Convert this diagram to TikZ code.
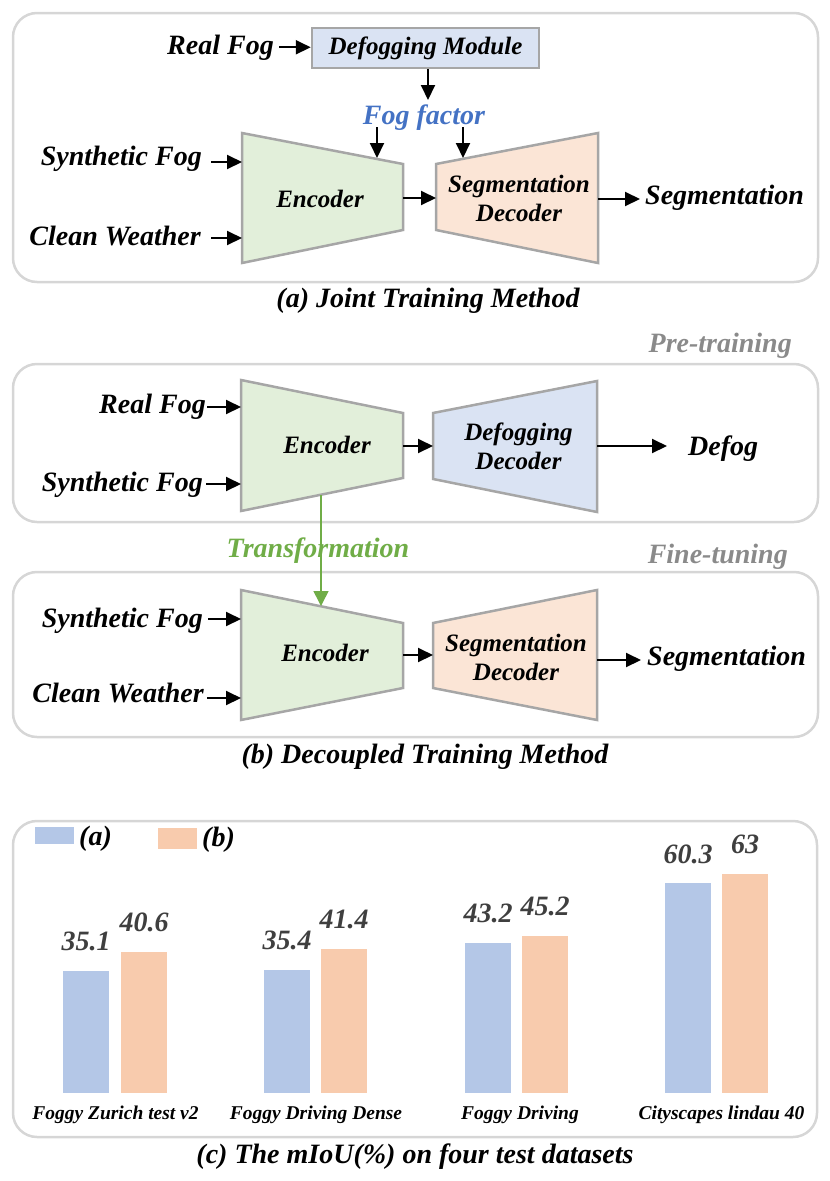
\documentclass[tikz,border=0pt]{standalone}
\usepackage{fontspec}
\setmainfont{Liberation Serif}
\usetikzlibrary{arrows.meta}
\definecolor{encc}{HTML}{E2EFDA}
\definecolor{segc}{HTML}{FBE5D6}
\definecolor{defc}{HTML}{DAE3F3}
\definecolor{edgec}{HTML}{A6A6A6}
\definecolor{panelc}{HTML}{D6D6D6}
\definecolor{fogblue}{HTML}{4472C4}
\definecolor{trgreen}{HTML}{70AD47}
\definecolor{barblue}{HTML}{B4C7E7}
\definecolor{barorange}{HTML}{F8CBAD}
\definecolor{valgray}{HTML}{3F3F3F}
\definecolor{stagegray}{HTML}{8A8A8A}
\begin{document}
\begin{tikzpicture}[x=1pt,y=-1pt,
  lbl/.style={font=\fontsize{28}{30}\selectfont\bfseries\itshape, inner sep=0pt},
  inl/.style={font=\fontsize{25}{29}\selectfont\bfseries\itshape, inner sep=0pt, align=center},
  cat/.style={font=\fontsize{19.5}{21}\selectfont\bfseries\itshape, inner sep=0pt},
  val/.style={lbl, text=valgray},
  arr/.style={line width=2pt, -{Triangle[length=15pt,width=14pt]}},
  garr/.style={draw=trgreen, line width=1.6pt, -{Triangle[length=15pt,width=15pt]}},
  panel/.style={draw=panelc, line width=2.5pt, rounded corners=24pt},
  trap/.style={draw=edgec, line width=2.5pt, line join=miter},
  mod/.style={draw=edgec, line width=2.5pt, fill=defc, minimum width=227pt, minimum height=40pt, inner sep=0pt, font=\fontsize{25}{27}\selectfont\bfseries\itshape}]
\useasboundingbox (0,0) rectangle (830,1181);

% ---------- panels ----------
\draw[panel] (13,13) rectangle (818,282);
\draw[panel] (13,364) rectangle (818,522);
\draw[panel] (13,572) rectangle (818,737);
\draw[panel] (13,821) rectangle (817,1137);

% ---------- (a) Joint training ----------
\draw[trap, fill=encc] (242,133) -- (403,164) -- (403,230) -- (242,263) -- cycle;
\draw[trap, fill=segc] (436,164) -- (598,133) -- (598,263) -- (436,230) -- cycle;
\coordinate (EAr) at (403,198);
\coordinate (DAl) at (436,198);
\coordinate (DAr) at (598,199);
\coordinate (EAin1) at (242,162);
\coordinate (EAin2) at (242,238);
\coordinate (EAtop) at (377,158);
\coordinate (DAtop) at (463,158);
\coordinate (FFtip) at (428,100);

\node[mod] (dm) at (425.5,48) {Defogging Module};
\node[lbl, anchor=base east] (rfa) at (274,54) {Real Fog};
\node[lbl, anchor=base, text=fogblue] (ff) at (424,124) {Fog factor};
\node[lbl, anchor=base east] (sfa) at (202,165) {Synthetic Fog};
\node[lbl, anchor=base east] (cwa) at (201,245) {Clean Weather};
\node[inl, anchor=base] (enca) at (320,207) {Encoder};
\node[inl] (seda) at (519,198) {Segmentation\\Decoder};
\node[lbl, anchor=base west] (outa) at (645,204) {Segmentation};
\node[lbl, anchor=base] (capa) at (428,307) {(a) Joint Training Method};

\draw[arr, shorten <=5pt] (rfa.east) -- (rfa.east -| dm.west);
\draw[arr] (dm.south -| FFtip) -- (FFtip);
\draw[arr, shorten <=-3pt] (ff.south -| EAtop) -- (EAtop);
\draw[arr, shorten <=-3pt] (ff.south -| DAtop) -- (DAtop);
\draw[arr, shorten <=9pt] (sfa.east |- EAin1) -- (EAin1);
\draw[arr, shorten <=10pt] (cwa.east |- EAin2) -- (EAin2);
\draw[arr] (EAr) -- (DAl);
\draw[arr, shorten >=5pt] (DAr) -- (outa.west |- DAr);

% ---------- (b) Pre-training ----------
\draw[trap, fill=encc] (241,380) -- (403,413) -- (403,478) -- (241,511) -- cycle;
\draw[trap, fill=defc] (433,413) -- (597,381) -- (597,512) -- (433,479) -- cycle;
\coordinate (EBr) at (403,446);
\coordinate (DBl) at (433,446);
\coordinate (DBr) at (597,446);
\coordinate (EBin1) at (241,407);
\coordinate (EBin2) at (241,484);
\coordinate (EBbot) at (321,495);

\node[lbl, anchor=base east, text=stagegray] (pre) at (792,352) {Pre-training};
\node[lbl, anchor=base east] (rfb) at (206,413) {Real Fog};
\node[lbl, anchor=base east] (sfb) at (203,491) {Synthetic Fog};
\node[inl, anchor=base] (encb) at (327,453) {Encoder};
\node[inl] (defb) at (518.5,446) {Defogging\\Decoder};
\node[lbl, anchor=base west] (outb) at (688,455) {Defog};

\draw[arr, shorten <=1pt] (rfb.east |- EBin1) -- (EBin1);
\draw[arr, shorten <=3pt] (sfb.east |- EBin2) -- (EBin2);
\draw[arr] (EBr) -- (DBl);
\draw[arr, shorten >=21pt] (DBr) -- (outb.west |- DBr);

% ---------- (b) Fine-tuning ----------
\draw[trap, fill=encc] (241,590) -- (403,623) -- (403,688) -- (241,720) -- cycle;
\draw[trap, fill=segc] (433,623) -- (597,590) -- (597,720) -- (433,688) -- cycle;
\coordinate (ECr) at (403,655);
\coordinate (DCl) at (433,655);
\coordinate (DCr) at (597,660);
\coordinate (ECin1) at (241,619);
\coordinate (ECin2) at (241,698);
\coordinate (ECtop) at (321,606);

\node[lbl, anchor=base east, text=stagegray] (fine) at (788,563) {Fine-tuning};
\node[lbl, anchor=base east] (sfc) at (203,627) {Synthetic Fog};
\node[lbl, anchor=base east] (cwc) at (204,702) {Clean Weather};
\node[inl, anchor=base] (encc) at (325,661) {Encoder};
\node[inl] (sedc) at (516,657) {Segmentation\\Decoder};
\node[lbl, anchor=base west] (outc) at (647,665) {Segmentation};
\node[lbl, anchor=base] (capb) at (425,763) {(b) Decoupled Training Method};

\draw[arr, shorten <=5pt] (sfc.east |- ECin1) -- (ECin1);
\draw[arr, shorten <=3pt] (cwc.east |- ECin2) -- (ECin2);
\draw[arr] (ECr) -- (DCl);
\draw[arr, shorten >=6pt] (DCr) -- (outc.west |- DCr);

% transformation
\draw[garr] (EBbot) -- (ECtop);
\node[lbl, anchor=base, text=trgreen] (trans) at (318,557) {Transformation};

% ---------- (c) bar chart ----------
\node[fill=barblue, inner sep=0pt, minimum width=39pt, minimum height=17pt] (lga) at (54.5,835.5) {};
\node[lbl, anchor=base west] (lgat) at (79,845) {(a)};
\node[fill=barorange, inner sep=0pt, minimum width=39pt, minimum height=21pt] (lgb) at (177.5,838.5) {};
\node[lbl, anchor=base west] (lgbt) at (202,846) {(b)};

\foreach \x/\v/\n in {63/35.1/a1, 264/35.4/a2, 465/43.2/a3, 665/60.3/a4}{
  \pgfmathsetmacro\tp{1093-3.48*\v}
  \fill[barblue] (\x,1093) rectangle ({\x+46},\tp);
  \node[val, anchor=base] (v\n) at ({\x+23},{\tp-20}) {\v};
}
\foreach \x/\v/\n in {121/40.6/b1, 321/41.4/b2, 522/45.2/b3, 722/63/b4}{
  \pgfmathsetmacro\tp{1093-3.48*\v}
  \fill[barorange] (\x,1093) rectangle ({\x+46},\tp);
  \node[val, anchor=base] (v\n) at ({\x+23},{\tp-20}) {\v};
}
\node[cat, anchor=base] (c1) at (115.5,1119) {Foggy Zurich test v2};
\node[cat, anchor=base] (c2) at (316,1119) {Foggy Driving Dense};
\node[cat, anchor=base] (c3) at (520,1119) {Foggy Driving};
\node[cat, anchor=base] (c4) at (721.5,1119) {Cityscapes lindau 40};
\node[lbl, anchor=base] (capc) at (415,1163) {(c) The mIoU(\%) on four test datasets};
\end{tikzpicture}
\end{document}
